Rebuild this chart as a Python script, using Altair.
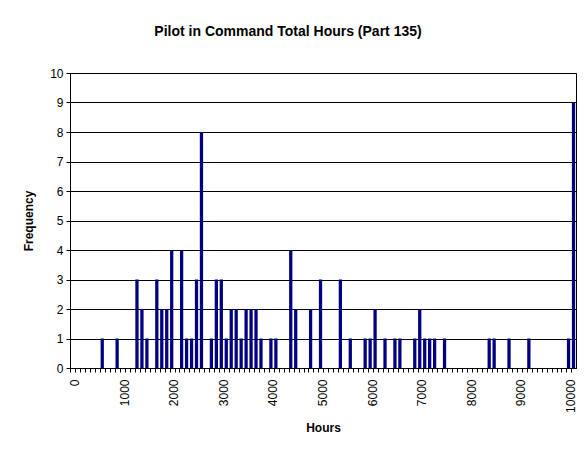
import altair as alt
import pandas as pd

# Histogram bins (Excel-style: 0, 100, ..., 10000, More)
bins = [str(v) for v in range(0, 10001, 100)] + ["More"]

counts = [
    0, 0, 0, 0, 0, 0, 1, 0, 0, 1,
    0, 0, 0, 3, 2, 1, 0, 3, 2, 2,
    4, 0, 4, 1, 1, 3, 8, 0, 1, 3,
    3, 1, 2, 2, 1, 2, 2, 2, 1, 0,
    1, 1, 0, 0, 4, 2, 0, 0, 2, 0,
    3, 0, 0, 0, 3, 0, 1, 0, 0, 1,
    1, 2, 0, 1, 0, 1, 1, 0, 0, 1,
    2, 1, 1, 1, 0, 1, 0, 0, 0, 0,
    0, 0, 0, 0, 1, 1, 0, 0, 1, 0,
    0, 0, 1, 0, 0, 0, 0, 0, 0, 0,
    1, 9,
]

label_bins = ["0", "1000", "2000", "3000", "4000", "5000",
              "6000", "7000", "8000", "9000", "10000"]
y_ticks = [0, 1, 2, 3, 4, 5, 6, 7, 8, 9, 10]

df = pd.DataFrame({"bin": bins, "count": counts})

FONT = "Liberation Sans"
label_list = "[" + ",".join("'" + b + "'" for b in label_bins) + "]"

chart = (
    alt.Chart(df)
    .mark_bar(color="#000080")
    .encode(
        x=alt.X(
            "bin:N",
            sort=bins,
            scale=alt.Scale(paddingInner=0.34, paddingOuter=0.17),
            axis=alt.Axis(
                title="Hours",
                titleFont=FONT,
                titleFontSize=12,
                titleFontWeight="bold",
                titleColor="black",
                titlePadding=10,
                labelExpr="indexof(" + label_list + ", datum.value) >= 0 ? datum.value : ''",
                labelOverlap=False,
                labelAngle=270,
                labelFont=FONT,
                labelFontSize=12,
                labelColor="black",
                labelPadding=7,
                labelOffset=2.5,
                bandPosition=0,
                ticks=True,
                tickSize=4,
                tickColor="black",
                domainColor="black",
                grid=False,
            ),
        ),
        y=alt.Y(
            "count:Q",
            scale=alt.Scale(domain=[0, 10], nice=False),
            axis=alt.Axis(
                title="Frequency",
                titleFont=FONT,
                titleFontSize=12,
                titleFontWeight="bold",
                titleColor="black",
                titlePadding=14,
                values=y_ticks,
                labelFont=FONT,
                labelFontSize=12,
                labelColor="black",
                labelPadding=3,
                tickSize=4,
                tickColor="black",
                domainColor="black",
                grid=True,
                gridColor="black",
                gridWidth=1,
            ),
        ),
    )
    .properties(
        width=506,
        height=295,
        title=alt.TitleParams(
            "Pilot in Command Total Hours (Part 135)",
            font=FONT,
            fontSize=14,
            fontWeight="bold",
            color="black",
            anchor="middle",
            dx=-35,
            offset=28,
        ),
        autosize=alt.AutoSizeParams(type="none"),
        padding={"left": 62, "top": 65, "right": 1, "bottom": 84},
        background="white",
    )
    .configure_view(stroke="black", strokeWidth=1)
)

chart.save("out.html", embed_options={"renderer": "svg", "actions": False})
